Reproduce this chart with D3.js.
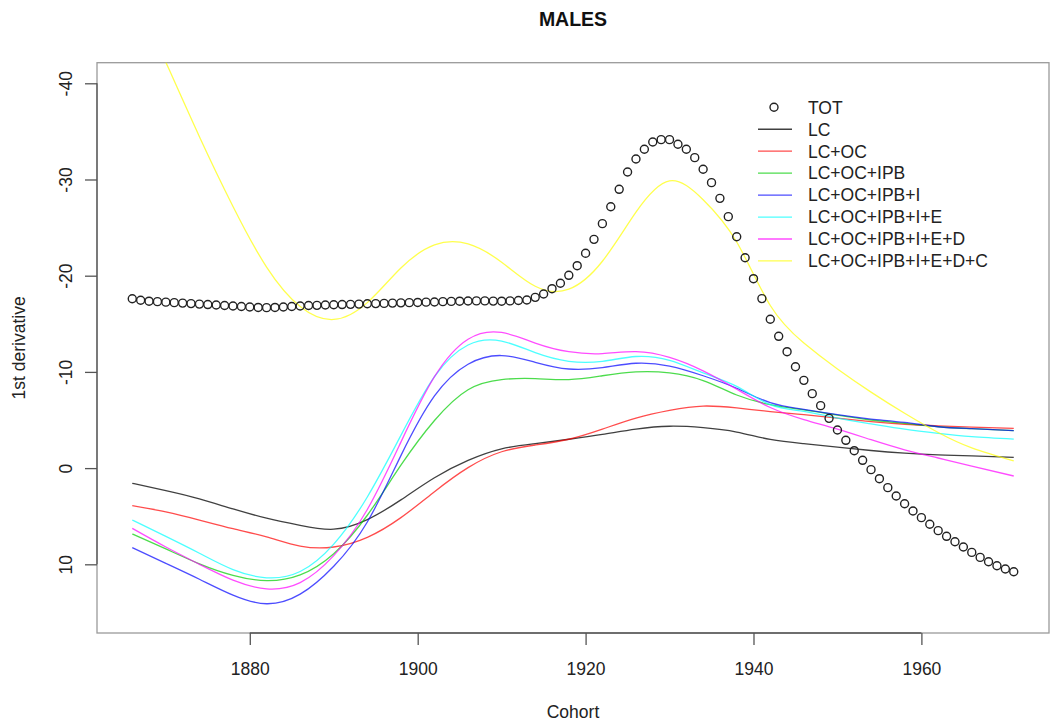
<!DOCTYPE html>
<html>
<head>
<meta charset="utf-8">
<script src="https://cdn.jsdelivr.net/npm/d3@7"></script>
<style>
  body { margin: 0; background: #fff; }
  svg { display: block; font-family: "Liberation Sans", Arial, Helvetica, sans-serif; }
</style>
</head>
<body>
<svg id="chart" width="1057" height="726"></svg>
<script>
// ---------- DATA ----------
const totYears = [1866,1867,1868,1869,1870,1871,1872,1873,1874,1875,1876,1877,1878,1879,1880,1881,1882,1883,1884,1885,1886,1887,1888,1889,1890,1891,1892,1893,1894,1895,1896,1897,1898,1899,1900,1901,1902,1903,1904,1905,1906,1907,1908,1909,1910,1911,1912,1913,1914,1915,1916,1917,1918,1919,1920,1921,1922,1923,1924,1925,1926,1927,1928,1929,1930,1931,1932,1933,1934,1935,1936,1937,1938,1939,1940,1941,1942,1943,1944,1945,1946,1947,1948,1949,1950,1951,1952,1953,1954,1955,1956,1957,1958,1959,1960,1961,1962,1963,1964,1965,1966,1967,1968,1969,1970,1971];
const totValues = [-17.6,-17.45,-17.35,-17.3,-17.25,-17.2,-17.15,-17.1,-17.05,-17.0,-16.95,-16.9,-16.85,-16.8,-16.75,-16.7,-16.68,-16.7,-16.75,-16.8,-16.85,-16.9,-16.92,-16.95,-16.98,-17.0,-17.02,-17.05,-17.08,-17.1,-17.12,-17.15,-17.18,-17.2,-17.22,-17.25,-17.27,-17.3,-17.33,-17.35,-17.37,-17.38,-17.38,-17.36,-17.35,-17.38,-17.42,-17.47,-17.75,-18.1,-18.65,-19.21,-20.04,-21.04,-22.33,-23.78,-25.41,-27.17,-28.98,-30.78,-32.13,-33.14,-33.9,-34.14,-34.14,-33.66,-33.14,-32.27,-31.06,-29.67,-28.04,-26.14,-24.05,-21.87,-19.69,-17.62,-15.47,-13.7,-12.1,-10.54,-9.12,-7.74,-6.49,-5.17,-3.96,-2.89,-1.81,-0.81,0.16,1.1,2.03,2.9,3.7,4.46,5.15,5.84,6.5,7.09,7.65,8.2,8.76,9.28,9.73,10.15,10.49,10.77];

const lineYears = [1866,1870,1874,1878,1882,1886,1890,1894,1898,1902,1906,1910,1914,1918,1922,1926,1930,1934,1938,1942,1946,1950,1954,1958,1962,1966,1971];
const lc        = [1.58,2.35,3.2,4.25,5.2,5.95,6.35,5.35,3.3,1.0,-0.8,-2.0,-2.55,-3.0,-3.5,-4.05,-4.35,-4.2,-3.75,-2.98,-2.54,-2.19,-1.83,-1.55,-1.37,-1.27,-1.12];
const lcOc      = [3.91,4.55,5.4,6.3,7.15,8.1,8.2,7.2,5.15,2.45,-0.05,-1.7,-2.4,-3.0,-4.05,-5.2,-6.0,-6.45,-6.25,-5.88,-5.55,-5.2,-4.84,-4.56,-4.39,-4.25,-4.14];
const lcOcIpb   = [6.85,8.4,9.95,11.15,11.7,11.1,8.9,4.9,-0.3,-4.95,-8.15,-9.2,-9.3,-9.2,-9.6,-10.0,-9.9,-9.1,-7.6,-6.6,-6.05,-5.5,-5.0,-4.65,-4.3,-4.1,-3.9];
const lcOcIpbI  = [8.27,9.9,11.55,13.2,14.1,13.1,10.2,5.6,-1.3,-7.5,-10.8,-11.7,-11.0,-10.3,-10.45,-10.9,-10.6,-9.6,-8.3,-6.8,-6.1,-5.55,-5.1,-4.75,-4.3,-4.1,-3.89];
const lcOcIpbIE = [5.39,7.1,8.85,10.55,11.4,10.75,7.9,3.0,-3.4,-9.5,-12.8,-13.2,-12.0,-11.1,-11.1,-11.6,-11.2,-9.9,-8.5,-6.6,-5.9,-5.2,-4.6,-4.05,-3.62,-3.28,-3.02];
const lcOcIpbIED = [6.26,8.2,10.0,11.65,12.55,11.9,9.1,4.3,-2.7,-9.5,-13.4,-14.1,-13.0,-12.1,-11.9,-12.1,-11.5,-10.1,-8.2,-6.3,-5.05,-4.05,-2.95,-1.9,-1.05,-0.2,0.82];
const lcOcIpbIEDC = [-50,-42.2,-34.45,-27.2,-20.9,-16.8,-15.45,-17.2,-20.8,-23.2,-23.3,-21.4,-18.9,-18.6,-21.5,-26.6,-29.85,-27.9,-23.5,-16.9,-13.0,-10.3,-7.9,-5.7,-3.7,-2.1,-0.74];

const seriesNames = ["LC","LC+OC","LC+OC+IPB","LC+OC+IPB+I","LC+OC+IPB+I+E","LC+OC+IPB+I+E+D","LC+OC+IPB+I+E+D+C"];
const seriesColors = ["#000000","#ff0000","#00cd00","#0000ff","#00ffff","#ff00ff","#ffff00"];
const seriesValues = [lc, lcOc, lcOcIpb, lcOcIpbI, lcOcIpbIE, lcOcIpbIED, lcOcIpbIEDC];

const xTicks = [1880,1900,1920,1940,1960];
const yTicks = [-40,-30,-20,-10,0,10];
const titleText = "MALES";
const xLabel = "Cohort";
const yLabel = "1st derivative";

// ---------- LAYOUT ----------
const svg = d3.select("#chart");
const plot = {left: 97, right: 1049, top: 62.7, bottom: 633};
const x = d3.scaleLinear().domain([1861.8, 1975.2]).range([plot.left, plot.right]);
const y = d3.scaleLinear().domain([-42.14, 17.14]).range([plot.top, plot.bottom]);

svg.append("defs").append("clipPath").attr("id","clip")
  .append("rect").attr("x", plot.left).attr("y", plot.top)
  .attr("width", plot.right - plot.left).attr("height", plot.bottom - plot.top);

// box
svg.append("rect").attr("x", plot.left).attr("y", plot.top)
  .attr("width", plot.right - plot.left).attr("height", plot.bottom - plot.top)
  .attr("fill","none").attr("stroke","#9a9a9a").attr("stroke-width",1.3);

// x axis
const xAxis = svg.append("g").attr("transform", `translate(0,${plot.bottom})`)
  .call(d3.axisBottom(x).tickValues(xTicks).tickSize(12).tickFormat(d => String(d)));
xAxis.select(".domain").remove();
xAxis.selectAll(".tick line").attr("stroke","#555").attr("stroke-width",1.3);
xAxis.selectAll(".tick text").attr("y", 42).attr("dy", null)
  .attr("font-size", 17.5).attr("fill","#222").attr("font-family", "Liberation Sans, Arial, sans-serif");
svg.append("line").attr("x1", x(xTicks[0])).attr("x2", x(xTicks[xTicks.length-1]))
  .attr("y1", plot.bottom).attr("y2", plot.bottom).attr("stroke","#555").attr("stroke-width",1.3);

// y axis
const yAxis = svg.append("g").attr("transform", `translate(${plot.left},0)`)
  .call(d3.axisLeft(y).tickValues(yTicks).tickSize(12).tickFormat(d => String(d)));
yAxis.select(".domain").remove();
yAxis.selectAll(".tick line").attr("stroke","#555").attr("stroke-width",1.3);
yAxis.selectAll(".tick text")
  .attr("x", null).attr("dy", null)
  .attr("text-anchor","middle")
  .attr("transform", "translate(-25.5,0) rotate(-90)")
  .attr("font-size", 17.5).attr("fill","#222").attr("font-family", "Liberation Sans, Arial, sans-serif");
svg.append("line").attr("x1", plot.left).attr("x2", plot.left)
  .attr("y1", y(yTicks[0])).attr("y2", y(yTicks[yTicks.length-1])).attr("stroke","#555").attr("stroke-width",1.3);

// title and labels
svg.append("text").attr("x", (plot.left + plot.right)/2).attr("y", 26)
  .attr("text-anchor","middle").attr("font-weight","bold").attr("font-size",19.5).attr("fill","#111").text(titleText);
svg.append("text").attr("x", (plot.left + plot.right)/2).attr("y", 718)
  .attr("text-anchor","middle").attr("font-size",17.5).attr("fill","#222").text(xLabel);
svg.append("text").attr("transform", `translate(25,${(plot.top + plot.bottom)/2}) rotate(-90)`)
  .attr("text-anchor","middle").attr("font-size",17.5).attr("fill","#222").text(yLabel);

// lines
const gLines = svg.append("g").attr("clip-path","url(#clip)");
const lineGen = d3.line().x(d => x(d[0])).y(d => y(d[1])).curve(d3.curveNatural);
seriesValues.forEach((vals, i) => {
  gLines.append("path")
    .datum(lineYears.map((yr, j) => [yr, vals[j]]))
    .attr("d", lineGen).attr("fill","none")
    .attr("stroke", seriesColors[i]).attr("stroke-width", 1.3)
    .attr("stroke-opacity", i === 0 ? 0.75 : 0.7);
});

// TOT points
gLines.selectAll("circle.tot").data(totYears.map((yr, j) => [yr, totValues[j]]))
  .enter().append("circle").attr("class","tot")
  .attr("cx", d => x(d[0])).attr("cy", d => y(d[1])).attr("r", 4)
  .attr("fill","none").attr("stroke","#222").attr("stroke-width",1.4);

// legend
const legend = svg.append("g");
const legX1 = 758, legX2 = 792, legTx = 808, legY0 = 107.3, legDy = 21.95;
const legItems = ["TOT"].concat(seriesNames);
legItems.forEach((name, i) => {
  const yy = legY0 + i*legDy;
  if (i === 0) {
    legend.append("circle").attr("cx", (legX1+legX2)/2 - 1).attr("cy", yy).attr("r", 4)
      .attr("fill","none").attr("stroke","#222").attr("stroke-width",1.4);
  } else {
    legend.append("line").attr("x1", legX1).attr("x2", legX2).attr("y1", yy).attr("y2", yy)
      .attr("stroke", seriesColors[i-1]).attr("stroke-width", 1.3).attr("stroke-opacity", i === 1 ? 0.75 : 0.7);
  }
  legend.append("text").attr("x", legTx).attr("y", yy).attr("dy","0.36em")
    .attr("font-size", 17.5).attr("fill","#222").text(name);
});
</script>
</body>
</html>
